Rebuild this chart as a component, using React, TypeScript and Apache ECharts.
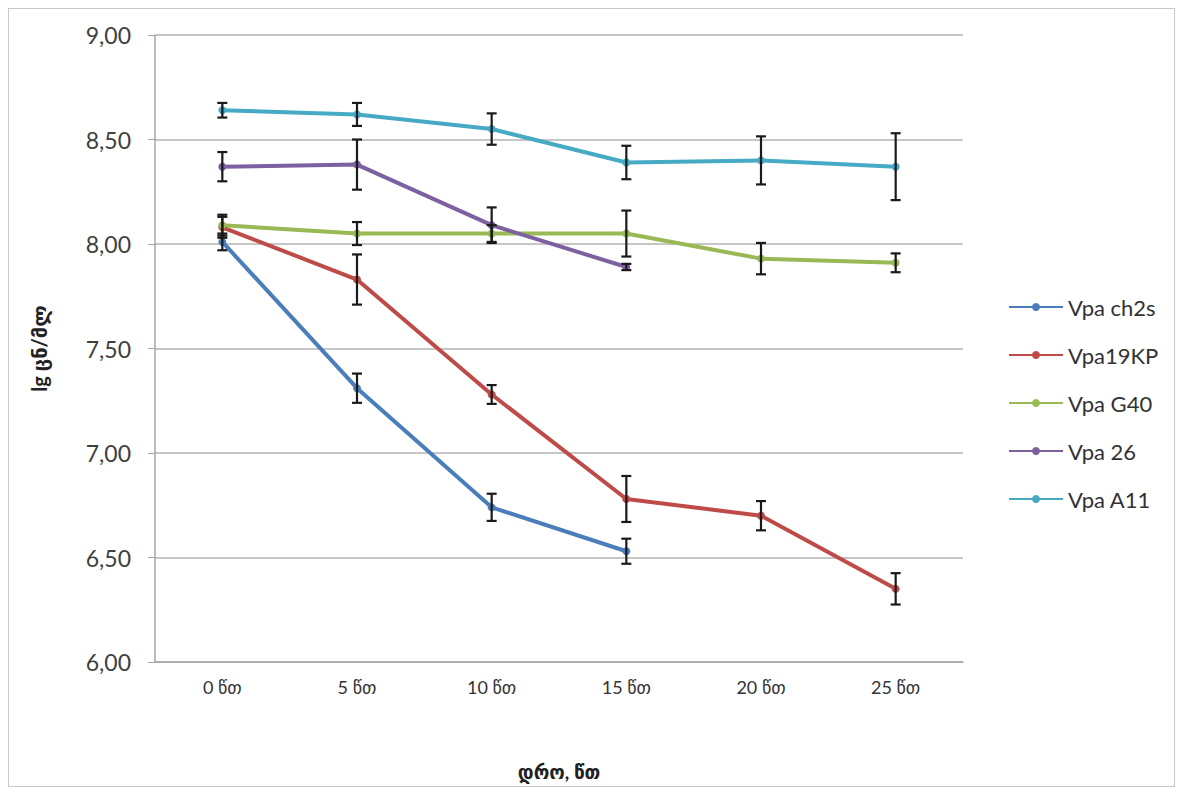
import React, { useEffect, useRef } from "react";
import * as echarts from "echarts";

const categories = ["0 წთ", "5 წთ", "10 წთ", "15 წთ", "20 წთ", "25 წთ"];
const seriesNames = ["Vpa ch2s", "Vpa19KP", "Vpa G40", "Vpa 26", "Vpa A11"];
const colors = ["#4a7ebb", "#be4b48", "#98b954", "#7d60a0", "#46aac5"];

const ch2s = [8.01, 7.31, 6.74, 6.53, null, null];
const kp19 = [8.08, 7.83, 7.28, 6.78, 6.70, 6.35];
const g40 = [8.09, 8.05, 8.05, 8.05, 7.93, 7.91];
const v26 = [8.37, 8.38, 8.09, 7.89, null, null];
const a11 = [8.64, 8.62, 8.55, 8.39, 8.40, 8.37];

const ch2sErr = [0.04, 0.07, 0.065, 0.06, null, null];
const kp19Err = [0.05, 0.12, 0.045, 0.11, 0.07, 0.075];
const g40Err = [0.05, 0.055, 0.04, 0.11, 0.075, 0.045];
const v26Err = [0.07, 0.12, 0.085, 0.015, null, null];
const a11Err = [0.035, 0.055, 0.075, 0.08, 0.115, 0.16];

const allValues = [ch2s, kp19, g40, v26, a11];
const allErrors = [ch2sErr, kp19Err, g40Err, v26Err, a11Err];

const FONT = "Lato, 'DejaVu Sans', sans-serif";

export default function App() {
  const ref = useRef<HTMLDivElement>(null);
  useEffect(() => {
    if (!ref.current) return;
    const chart = echarts.init(ref.current, null, { renderer: "svg" });

    const lineSeries = allValues.map((vals, i) => ({
      name: seriesNames[i],
      type: "line",
      data: vals,
      symbol: "circle",
      symbolSize: 8,
      connectNulls: false,
      lineStyle: { width: 4, color: colors[i] },
      itemStyle: { color: colors[i] },
      z: 2,
    }));

    const errSeries = allValues.map((vals, i) => {
      const data: any[] = [];
      vals.forEach((v, j) => {
        const e = allErrors[i][j];
        if (v != null && e != null) data.push([j, v - e, v + e]);
      });
      return {
        type: "custom",
        name: seriesNames[i] + " err",
        data,
        z: 5,
        silent: true,
        renderItem: (params: any, api: any) => {
          const x = api.value(0);
          const lo = api.coord([x, api.value(1)]);
          const hi = api.coord([x, api.value(2)]);
          const cap = 5;
          const style = { stroke: "#1a1a1a", lineWidth: 2.2 };
          return {
            type: "group",
            children: [
              { type: "line", shape: { x1: lo[0], y1: lo[1], x2: hi[0], y2: hi[1] }, style },
              { type: "line", shape: { x1: lo[0] - cap, y1: lo[1], x2: lo[0] + cap, y2: lo[1] }, style },
              { type: "line", shape: { x1: hi[0] - cap, y1: hi[1], x2: hi[0] + cap, y2: hi[1] }, style },
            ],
          };
        },
      };
    });

    chart.setOption({
      animation: false,
      backgroundColor: "#ffffff",
      textStyle: { fontFamily: FONT },
      grid: { left: 146, top: 26, width: 808, height: 630, containLabel: false },
      legend: {
        orient: "vertical",
        left: 994,
        top: 282,
        itemGap: 26,
        itemWidth: 54,
        itemHeight: 10,
        data: seriesNames,
        textStyle: { fontSize: 22, color: "#333", fontFamily: FONT },
      },
      xAxis: {
        type: "category",
        data: categories,
        boundaryGap: true,
        axisLine: { show: true, lineStyle: { color: "#a6a6a6", width: 1.5 } },
        axisTick: { show: false },
        axisLabel: { fontSize: 18, color: "#333", margin: 16, fontFamily: FONT },
        name: "დრო, წთ",
        nameLocation: "middle",
        nameGap: 100,
        nameTextStyle: { fontSize: 19, fontWeight: "bold", color: "#222", fontFamily: FONT },
      },
      yAxis: {
        type: "value",
        min: 6,
        max: 9,
        interval: 0.5,
        axisLine: { show: true, lineStyle: { color: "#a6a6a6", width: 1.5 } },
        axisTick: { show: true, length: 7, lineStyle: { color: "#a6a6a6" } },
        splitLine: { show: true, lineStyle: { color: "#b3b3b3", width: 1.5 } },
        axisLabel: {
          fontSize: 23,
          color: "#404040",
          margin: 24,
          fontFamily: FONT,
          formatter: (v: number) => v.toFixed(2).replace(".", ","),
        },
        name: "lg ცნ/მლ",
        nameLocation: "middle",
        nameGap: 106,
        nameRotate: 90,
        nameTextStyle: { fontSize: 20, fontWeight: "bold", color: "#222", fontFamily: FONT },
      },
      series: [...lineSeries, ...errSeries],
    });
    return () => chart.dispose();
  }, []);

  return (
    <div style={{ width: 1167, height: 779, border: "1px solid #c8c8c8", boxSizing: "border-box" }}>
      <div ref={ref} style={{ width: 1165, height: 777 }} />
    </div>
  );
}
